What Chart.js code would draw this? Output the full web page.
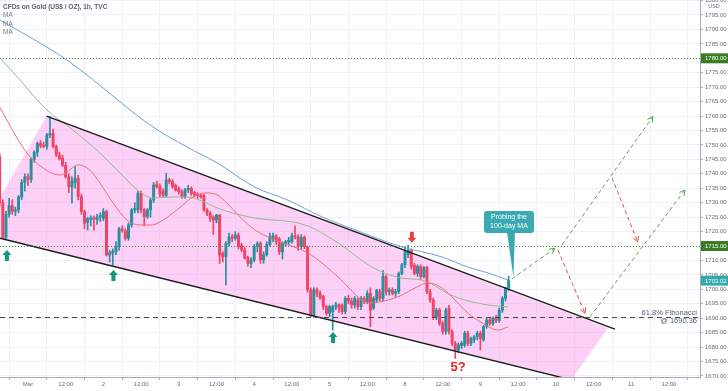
<!DOCTYPE html>
<html><head><meta charset="utf-8">
<script src="https://cdn.jsdelivr.net/npm/chart.js@4.4.1/dist/chart.umd.min.js"></script>
<style>html,body{margin:0;padding:0;background:#fff;overflow:hidden}canvas{display:block}</style>
</head><body><canvas id="c" width="728" height="391" style="width:728px;height:391px"></canvas>
<script>
// ---------- DATA ----------
const title = 'CFDs on Gold (US$ / OZ), 1h, TVC';
const maLabels = ['MA', 'MA', 'MA'];
const firstBar = -9; // hour index of the first candle (0 = 1 Mar 00:00)
// [open, high, low, close]
const ohlc = [
[1746,1747,1729,1730],[1730,1731,1717.5,1718],[1718,1727,1717.5,1726],[1726,1731.5,1725,1729],
[1729,1731,1726,1727],[1727,1728.5,1725.5,1727.5],[1727.5,1732.5,1726.5,1732],[1732,1738,1731,1737],
[1737,1740,1734,1739],[1739,1740,1736,1738],[1738,1745.5,1737,1745],[1745,1748,1744,1747.5],
[1747.5,1751,1746,1750.5],[1750.5,1751.5,1749,1749.7],[1750,1751,1749,1749.5],[1749.5,1754,1748.5,1753.5],
[1753.5,1759.8,1752.5,1754],[1754,1755.5,1749,1749.5],[1749.5,1750,1746,1746.5],[1746.5,1747.5,1744.8,1745.3],
[1745.5,1746.5,1742.5,1743],[1743,1744,1738.5,1739],[1739,1740,1733.5,1735.5],[1735.5,1739,1729.8,1737.5],
[1737,1742.5,1735,1738.4],[1738.4,1739.5,1731,1732.1],[1732.1,1733,1726,1726.9],[1726.9,1727.5,1721,1722.9],
[1723.2,1725,1720.5,1724.5],[1724.2,1725.5,1722,1724.8],[1724.8,1725.5,1720.5,1724.2],[1724.2,1726,1722.5,1725],
[1725,1726.5,1723.5,1725.5],[1724.6,1728,1723.8,1726.9],[1726.9,1727.5,1711.5,1711.9],[1711.9,1713.5,1709.5,1712.7],
[1712.5,1714,1708.4,1713.2],[1713,1716.5,1712,1714.8],[1714.8,1721.5,1713.5,1721],[1721,1722,1719.8,1720.3],
[1720.3,1721,1717,1717.7],[1717.7,1723,1717,1722.3],[1722.3,1728,1721.5,1727.5],[1727.5,1730,1726.5,1728],
[1727.5,1734,1726.5,1733.2],[1733.2,1734,1726.5,1727.5],[1727.5,1728,1722,1725.2],[1725.2,1728,1724.5,1727.5],
[1727.5,1731.5,1725,1730.9],[1730.9,1737,1730,1736.1],[1736.5,1737.5,1735,1735.6],[1735.6,1736.5,1732,1733],
[1734,1734.8,1732,1732.5],[1732.5,1740.2,1732,1737.9],[1737.9,1738.5,1736.5,1737.3],[1737.3,1738,1735,1735.6],
[1736,1736.5,1734,1734.4],[1734.9,1735.5,1733,1733.8],[1733.8,1734.5,1731.5,1732.1],[1732.1,1735,1731.5,1734.4],
[1734.4,1736,1733.5,1735],[1735,1735.5,1732.5,1733.2],[1733.5,1734,1732,1732.7],[1733,1733.5,1731.5,1732.5],
[1732.5,1733,1731.5,1732],[1732.5,1733,1727,1727.5],[1727.5,1728,1725.5,1726.3],[1726.3,1727,1723.5,1724.6],
[1725,1725.5,1719,1724],[1724,1726,1723,1725.7],[1725.7,1726,1709,1711.9],[1712.5,1713,1709.5,1711.3],
[1711.3,1716.5,1701.5,1715.9],[1715.9,1719.5,1715,1718.2],[1718.2,1719,1716.5,1717.7],[1717.7,1720,1717,1718.8],
[1718.8,1719.5,1714,1714.8],[1715.3,1716,1713,1713.6],[1713.6,1714.5,1710.5,1710.8],[1711,1711.5,1708,1709],
[1709,1711,1707.5,1710.2],[1710.2,1715.5,1709.5,1714.8],[1714.8,1716.5,1713,1715.9],[1715.9,1716.5,1709,1710.2],
[1710.2,1713,1709,1712],[1712,1716.5,1711.5,1715.5],[1715.5,1719.5,1715,1718.2],[1717.5,1719.5,1716.5,1718.5],
[1718.5,1719,1715.5,1716.5],[1717.5,1718,1712,1713],[1713,1716.5,1710.5,1715.9],[1715.9,1717,1715,1716.5],
[1716.3,1718,1715.5,1717],[1716.5,1719.5,1716,1718.5],[1718.5,1722,1717.5,1718.2],[1718.2,1719,1713.5,1714.8],
[1714.8,1719,1714,1718],[1718,1718.5,1714,1714.8],[1714.5,1715,1699,1699.8],[1699.8,1700.5,1690.5,1691.1],
[1691.1,1700.5,1690.3,1699.8],[1699.8,1700.5,1697.5,1698.6],[1698.6,1699.5,1696.5,1697],[1697.5,1698,1693,1694],
[1694,1694.5,1691,1691.7],[1691.7,1694.5,1690.5,1694],[1692.3,1694.5,1685.9,1694],[1694,1695.5,1693,1694.6],
[1694.6,1695,1692,1693.5],[1694.6,1695,1691.5,1692.3],[1692.3,1697.5,1691.5,1696.9],[1696.9,1698,1695,1696],
[1696,1697,1693.5,1694.6],[1694.6,1697.5,1693.5,1696.9],[1696.3,1697,1693,1694],[1694,1697.5,1693,1696.9],
[1696.9,1697.5,1695,1695.7],[1695.7,1699.5,1695,1698.6],[1698.6,1700.5,1687,1692.8],[1693.5,1697.5,1693,1696.9],
[1696.3,1700,1695.5,1699.8],[1699.2,1700,1696,1696.9],[1696.9,1706.5,1696,1704.4],[1704.4,1705,1698,1699.2],
[1699.2,1700.5,1698,1699.8],[1699.8,1700.5,1698,1698.6],[1698.6,1700,1697.5,1699.2],[1699.2,1706,1698.5,1705.5],
[1705.5,1709,1705,1708.5],[1708.5,1714.8,1707.5,1713],[1712,1715.2,1711,1713.5],[1713.5,1714,1707,1707.9],
[1708.4,1709,1705,1705.5],[1705.5,1708.5,1704.5,1707.9],[1707.9,1708.5,1703.5,1704.4],[1704.4,1708,1704,1707.5],
[1707.5,1708,1698.5,1699.2],[1699.2,1700,1695.5,1696.3],[1696.3,1697,1689.5,1690.5],[1690.5,1693.5,1689.5,1692.8],
[1692.8,1693.5,1687.5,1688.2],[1688.2,1689,1684.5,1685.4],[1685.5,1693.5,1684.5,1692.8],[1693.5,1694.5,1684.5,1685.4],
[1685.4,1686,1680.5,1681.3],[1681.3,1682,1676.1,1679],[1679,1681.5,1678,1680.7],[1680.5,1682,1679.5,1681.3],
[1680.7,1685.5,1680,1684.8],[1684.8,1685.5,1680.5,1681.3],[1681.3,1683.5,1680.5,1683],[1682.5,1684,1681.5,1683.6],
[1683.6,1685.5,1682.5,1684.8],[1684.8,1685.5,1679,1683],[1682.5,1687.5,1682,1687.1],[1687.1,1690,1686.5,1689.4],
[1689.4,1690,1687.5,1688.2],[1688.2,1690.5,1687.5,1690],[1690,1691,1688.5,1689.2],[1689.2,1693.5,1688.5,1692.8],
[1692.8,1697.5,1692,1696.9],[1696.9,1700.8,1696,1700.4],[1700.4,1704.5,1699.5,1703.02]
];
const xTickPos = [0,12,24,36,48,60,72,84,96,108,120,132,144,156,168,180,192,204];
const xTickLabels = ['Mar','12:00','2','12:00','3','12:00','4','12:00','5','12:00','8','12:00','9','12:00','10','12:00','11','12:00'];
const priceTicks = [1670,1675,1680,1685,1690,1695,1700,1705,1710,1715,1720,1725,1730,1735,1740,1745,1750,1755,1760,1765,1770,1775,1780,1785,1790,1795,1800];
// moving averages: [hour, price]
const maFast = [[-8.9,1763],[-7.3,1759.7],[-0.3,1747.2],[4.8,1742],[10.2,1739.6],[12.4,1740.6],[15.9,1743.1],[19.7,1741.3],[22.9,1736.8],[27.1,1729.9],[31.5,1724],[35.6,1722.3],[39.5,1722.3],[42,1723.3],[46.1,1726.4],[49.3,1729.2],[52.5,1732],[57,1733.4],[60.2,1732.7],[63.3,1729.9],[67.5,1725.1],[72.2,1720.6],[80,1716.5],[89.1,1712.6],[98.7,1704.3],[106.3,1696.3],[108.8,1695.3],[114.6,1696.3],[119,1698],[123.2,1700.5],[127.3,1702.2],[131.8,1700.5],[135.9,1696.3],[140,1691.8],[144.5,1688.4],[149.6,1685.9],[152.8,1687]];
const maMid = [[-8.9,1780.1],[-2.5,1772.5],[2.9,1765.6],[6,1762.1],[14.3,1755.2],[22.9,1747.2],[29.3,1740.3],[35.6,1733.7],[39.8,1731.6],[46.1,1732],[50.6,1732],[54.7,1730.9],[60.2,1728.2],[65.2,1726.4],[72.2,1724.7],[88.2,1722.3],[98.7,1716.1],[109.5,1707.7],[119,1703.9],[125.4,1703.2],[135.9,1697.4],[146.4,1694.6],[152.8,1693.9]];
const maSlow = [[-8.9,1793.3],[12.4,1779.4],[28.6,1765.6],[32.5,1762.1],[39.8,1756.2],[50.6,1749.3],[60.2,1743.8],[72.2,1735.4],[82.7,1730.9],[93.6,1725.1],[104.1,1720.6],[119,1714.7],[131.8,1711.2],[140,1707.7],[146.4,1705.7],[152.8,1703.2]];
// drawings, in [hour, price]
const channelUpper = [[5.95,1760.0],[186.8,1686.2]];
const channelLower = [[-8.9,1717.7],[170.9,1669.2]];
const channelFill = [[5.95,1760.0],[184.6,1686.6],[173.1,1668.9],[-15.4,1719.4]];
const levelHigh = 1780, levelResistance = 1715, fibLevel = 1690.36, lastPrice = 1703.02;
const fibText = ['61.8% Fibonacci', '@ 1690.36'];
const bullPaths = [[[154,1703.6],[167.7,1714.2]],[[170,1715.4],[198.9,1759.8]],[[178.9,1690.5],[209.1,1734.4]]];
const bearPaths = [[[168.7,1713.6],[177.3,1691.7]],[[185.9,1738.6],[194.1,1716.4]]];
const upArrows = [[-6.7,1713.6],[27.2,1706.7],[97.1,1685.2]];
const downArrows = [[122.2,1716.1]];
const calloutText = ['Probing the', '100-day MA'];
const calloutAt = [153.1,1723.3];
const calloutTip = [154.5,1704.3];
const waveText = '5?';
const waveAt = [136.9,1673.1];

// ---------- STYLE ----------
const UP = '#2a8f9d', DOWN = '#ee4466';
const FONT = "'Liberation Sans', Arial, sans-serif";
const isUp = r => r[3] >= r[0];

const wickData = ohlc.map((r,i)=>({x: firstBar+i, y:[r[2], r[1]]}));
const bodyData = ohlc.map((r,i)=>({x: firstBar+i, y:[r[0], r[3]]}));
const toXY = a => a.map(p=>({x:p[0], y:p[1]}));
const noPad = s => { s.paddingTop = 0; s.paddingBottom = 0; s.paddingLeft = 0; s.paddingRight = 0; };

const annot = {
  id: 'annot',
  beforeDatasetsDraw(chart) {
    const {ctx, chartArea:a, scales:{x, y}} = chart;
    const P = p => [x.getPixelForValue(p[0]), y.getPixelForValue(p[1])];
    ctx.save();
    ctx.beginPath(); ctx.rect(a.left, a.top, a.right-a.left, a.bottom-a.top); ctx.clip();
    ctx.beginPath();
    channelFill.forEach((p,i)=>{ const q=P(p); i?ctx.lineTo(q[0],q[1]):ctx.moveTo(q[0],q[1]); });
    ctx.closePath();
    ctx.fillStyle = 'rgba(249,128,233,0.36)';
    ctx.fill();
    ctx.restore();
  },
  afterDatasetsDraw(chart) {
    const {ctx, chartArea:a, scales:{x, y}} = chart;
    const P = p => [x.getPixelForValue(p[0]), y.getPixelForValue(p[1])];
    ctx.save();
    ctx.beginPath(); ctx.rect(a.left, a.top, a.right-a.left, a.bottom-a.top); ctx.clip();
    // channel lines
    ctx.strokeStyle = '#1b1b1b'; ctx.lineWidth = 1.4;
    [channelUpper, channelLower].forEach(l=>{
      const p0=P(l[0]), p1=P(l[1]);
      ctx.beginPath(); ctx.moveTo(p0[0],p0[1]); ctx.lineTo(p1[0],p1[1]); ctx.stroke();
    });
    // dotted horizontal levels
    ctx.strokeStyle = '#4f8f3f'; ctx.lineWidth = 1; ctx.setLineDash([1,2]);
    [levelHigh, levelResistance].forEach(v=>{
      const yy = Math.round(y.getPixelForValue(v))+0.5;
      ctx.beginPath(); ctx.moveTo(a.left, yy); ctx.lineTo(a.right, yy); ctx.stroke();
    });
    // fib dashed
    ctx.strokeStyle = '#4a4a4a'; ctx.setLineDash([5,4]);
    const fy = Math.round(y.getPixelForValue(fibLevel))+0.5;
    ctx.beginPath(); ctx.moveTo(a.left, fy); ctx.lineTo(a.right, fy); ctx.stroke();
    ctx.setLineDash([]);
    // fib text
    ctx.fillStyle = '#4f6275'; ctx.font = '7.5px ' + FONT; ctx.textAlign = 'right'; ctx.textBaseline = 'middle';
    ctx.fillText(fibText[0], a.right-3, fy-4.5);
    ctx.fillText(fibText[1], a.right-3, fy+3.5);
    // projected paths
    const drawPath = (seg, col) => {
      const p0=P(seg[0]), p1=P(seg[1]);
      ctx.strokeStyle = col; ctx.lineWidth = 1; ctx.setLineDash([4,3]);
      ctx.beginPath(); ctx.moveTo(p0[0],p0[1]); ctx.lineTo(p1[0],p1[1]); ctx.stroke();
      ctx.setLineDash([]);
      const ang = Math.atan2(p1[1]-p0[1], p1[0]-p0[0]);
      ctx.beginPath();
      ctx.moveTo(p1[0]-6*Math.cos(ang-0.5), p1[1]-6*Math.sin(ang-0.5));
      ctx.lineTo(p1[0],p1[1]);
      ctx.lineTo(p1[0]-6*Math.cos(ang+0.5), p1[1]-6*Math.sin(ang+0.5));
      ctx.stroke();
    };
    bullPaths.forEach(s=>drawPath(s, '#5f9f5a'));
    bearPaths.forEach(s=>drawPath(s, '#e0504f'));
    // arrows
    const arrow = (p, dir, col) => {
      const q = P(p); const cx = q[0], t = q[1];
      ctx.fillStyle = col; ctx.beginPath();
      ctx.moveTo(cx, t);
      ctx.lineTo(cx+4.5, t+5*dir); ctx.lineTo(cx+2, t+5*dir); ctx.lineTo(cx+2, t+11*dir);
      ctx.lineTo(cx-2, t+11*dir); ctx.lineTo(cx-2, t+5*dir); ctx.lineTo(cx-4.5, t+5*dir);
      ctx.closePath(); ctx.fill();
    };
    upArrows.forEach(p=>arrow(p, 1, '#16977d'));
    downArrows.forEach(p=>arrow(p, -1, '#e9443c'));
    // callout
    const c = P(calloutAt), tip = P(calloutTip);
    const w = 50, h = 22, bx = c[0]-w/2, by = c[1]-h/2;
    ctx.fillStyle = '#3aa9b2';
    ctx.beginPath();
    if (ctx.roundRect) ctx.roundRect(bx, by, w, h, 3); else ctx.rect(bx, by, w, h);
    ctx.fill();
    ctx.beginPath(); ctx.moveTo(c[0]-2, by+h-1); ctx.lineTo(c[0]+6, by+h-1); ctx.lineTo(tip[0], tip[1]); ctx.closePath(); ctx.fill();
    ctx.fillStyle = '#ffffff'; ctx.font = '7px ' + FONT; ctx.textAlign = 'center';
    ctx.fillText(calloutText[0], c[0], c[1]-4.5);
    ctx.fillText(calloutText[1], c[0], c[1]+4);
    // wave label
    const wv = P(waveAt);
    ctx.fillStyle = '#e2231f'; ctx.font = 'bold 13px ' + FONT;
    ctx.fillText(waveText, wv[0], wv[1]);
    ctx.restore();
  },
  afterDraw(chart) {
    const {ctx, chartArea:a, scales:{y}} = chart;
    ctx.save();
    // price boxes on axis
    const box = (v, col) => {
      const yy = y.getPixelForValue(v);
      ctx.fillStyle = col; ctx.fillRect(a.right+1, yy-5, 27, 10);
      ctx.fillStyle = '#fff'; ctx.font = '6px ' + FONT; ctx.textAlign = 'left'; ctx.textBaseline = 'middle';
      ctx.fillText(v.toFixed(2), a.right+5, yy+0.5);
    };
    box(levelHigh, '#3c7a26');
    box(levelResistance, '#3c7a26');
    box(lastPrice, '#33a9aa');
    ctx.fillStyle = '#787b86'; ctx.font = '5.5px ' + FONT; ctx.textAlign = 'center'; ctx.textBaseline = 'middle';
    ctx.fillText('USD', a.right+14, 6.5);
    // title and MA labels
    ctx.textAlign = 'left';
    ctx.fillStyle = '#5d606b'; ctx.font = 'bold 6.5px ' + FONT;
    ctx.fillText(title, 3, 7);
    ctx.font = '6.5px ' + FONT; ctx.fillStyle = '#7a7d86';
    maLabels.forEach((t,i)=>ctx.fillText(t, 3, 15.5+i*8.3));
    ctx.restore();
  }
};

new Chart(document.getElementById('c'), {
  type: 'bar',
  data: {
    datasets: [
      {type:'line', data: toXY(maFast), borderColor:'#f06a78', borderWidth:1, pointRadius:0, tension:0.4, cubicInterpolationMode:'monotone', order:1},
      {type:'line', data: toXY(maMid), borderColor:'#93b893', borderWidth:1, pointRadius:0, tension:0.4, cubicInterpolationMode:'monotone', order:1},
      {type:'line', data: toXY(maSlow), borderColor:'#6f9fd6', borderWidth:1, pointRadius:0, tension:0.4, cubicInterpolationMode:'monotone', order:1},
      {data: wickData, barThickness:1, grouped:false, borderWidth:0, order:3,
       backgroundColor: c => isUp(ohlc[c.dataIndex]) ? UP : DOWN},
      {data: bodyData, barThickness:2.3, grouped:false, borderWidth:0, minBarLength:1, order:2,
       backgroundColor: c => isUp(ohlc[c.dataIndex]) ? UP : DOWN}
    ]
  },
  options: {
    responsive:false, animation:false, devicePixelRatio:1,
    layout:{padding:0},
    plugins:{legend:{display:false}, tooltip:{enabled:false}},
    scales:{
      x:{type:'linear', min:-8.9, max:213.9, offset:false,
        afterBuildTicks: s => { s.ticks = xTickPos.map(v=>({value:v})); },
        afterFit: s => { s.height = 14; noPad(s); },
        ticks:{autoSkip:false, maxRotation:0, padding:1, color:'#6a6d78', font:{size:6, family:FONT},
          callback:(v,i)=>xTickLabels[i]},
        grid:{color:'#eef1f6', tickLength:3, tickColor:'#a8abb5'},
        border:{display:true, color:'#a8abb5'}
      },
      y:{position:'right', min:1669.65, max:1800.19,
        afterBuildTicks: s => { s.ticks = priceTicks.map(v=>({value:v})); },
        afterFit: s => { s.width = 28; noPad(s); },
        ticks:{autoSkip:false, padding:2, color:'#6a6d78', font:{size:6, family:FONT},
          callback: v => Number(v).toFixed(2)},
        grid:{color:'#eef1f6', tickLength:3, tickColor:'#a8abb5'},
        border:{display:true, color:'#a8abb5'}
      }
    }
  },
  plugins:[annot]
});
</script></body></html>
